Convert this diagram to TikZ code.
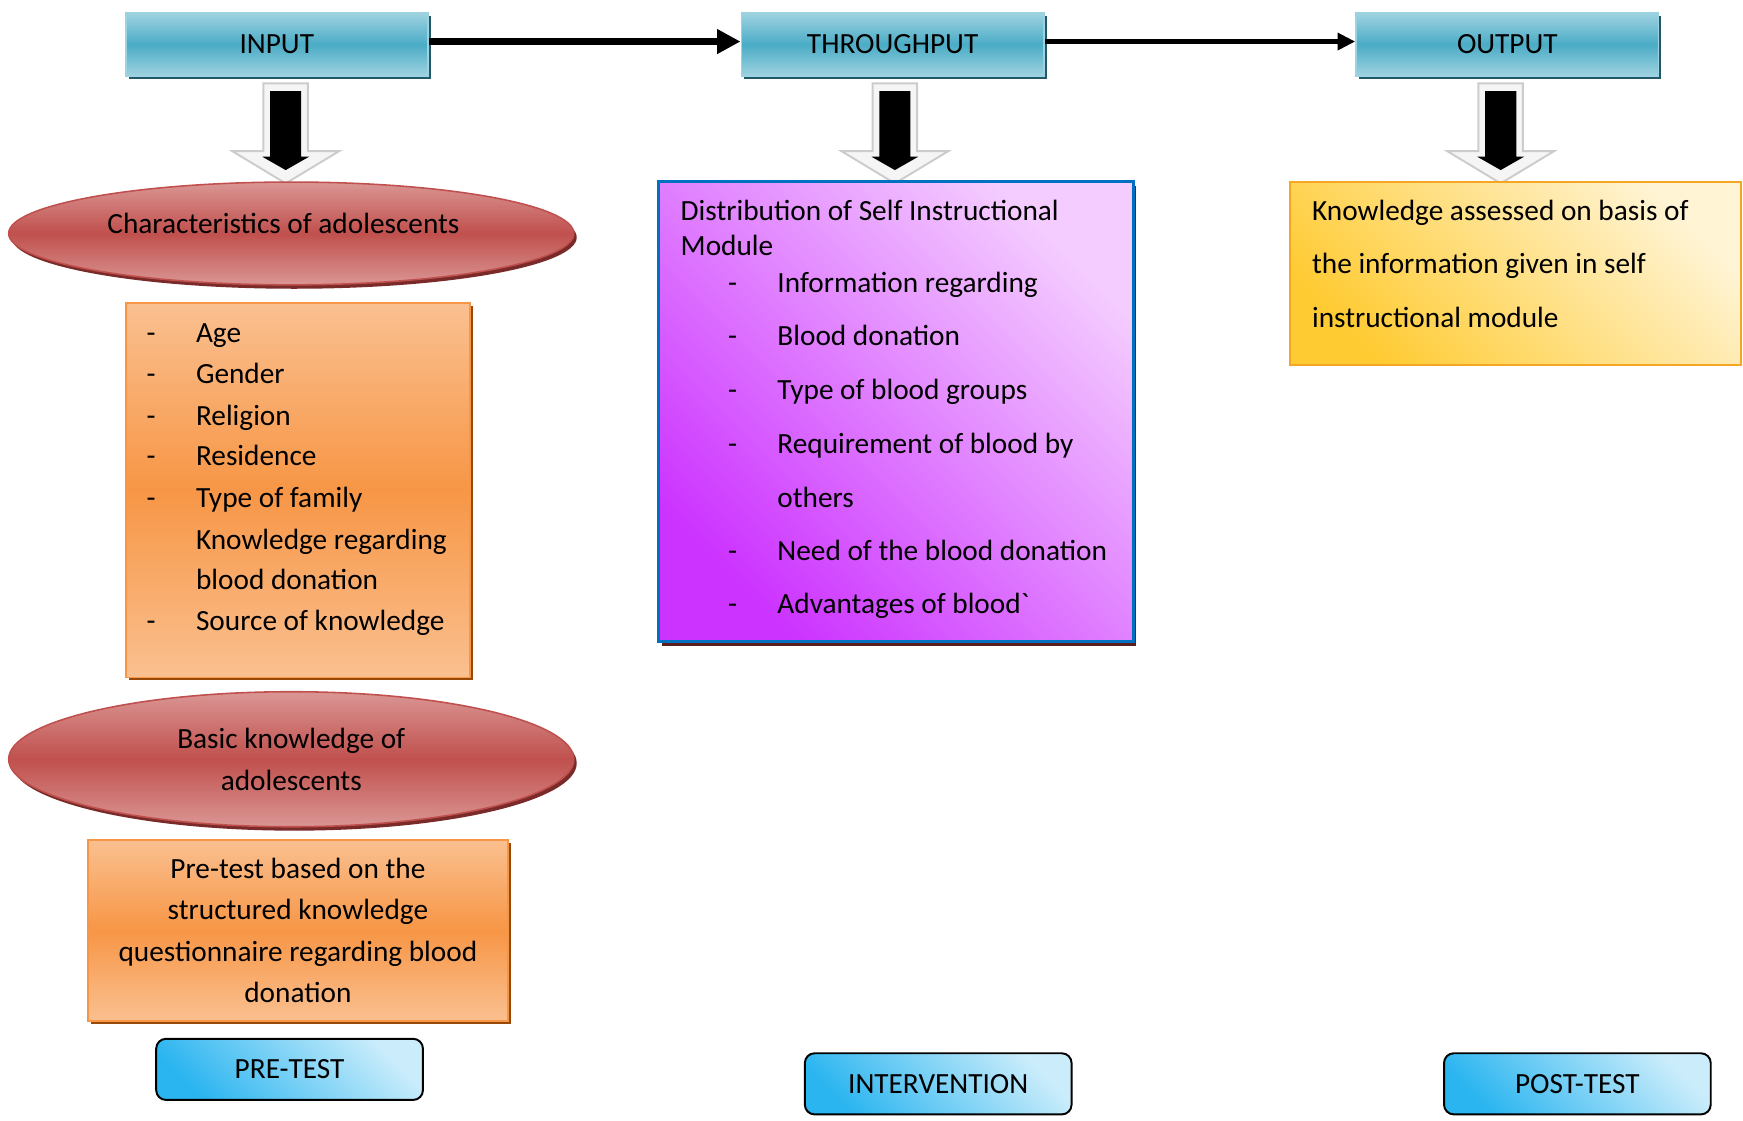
\documentclass[tikz,border=0pt]{standalone}
\usepackage{fontspec}
\setmainfont{Carlito}
\usetikzlibrary{arrows.meta,shapes.geometric,shadows}

\definecolor{tealmid}{HTML}{4BACC6}
\definecolor{teallight}{HTML}{9DD2E0}
\definecolor{tealdark}{HTML}{215968}
\definecolor{redmid}{HTML}{C0504D}
\definecolor{redlight}{HTML}{DA9694}
\definecolor{reddark}{HTML}{7A2B29}
\definecolor{orgmid}{HTML}{F79646}
\definecolor{orglight}{HTML}{FAC090}
\definecolor{orgdark}{HTML}{984807}
\definecolor{purpdark}{HTML}{CC33FF}
\definecolor{purplight}{HTML}{F4CCFF}
\definecolor{modblue}{HTML}{0070C0}
\definecolor{moddark}{HTML}{5C1F1F}
\definecolor{golddark}{HTML}{FFCB33}
\definecolor{goldlight}{HTML}{FFF4D4}
\definecolor{goldedge}{HTML}{F5A623}
\definecolor{skydark}{HTML}{2BB5F0}
\definecolor{skylight}{HTML}{CBEDFB}

\tikzset{
  blockarrow/.pic={
    \draw[fill=gray!8,draw=gray!40,line width=1pt] (-20,0) -- (20,0) -- (20,61) -- (48,61) -- (0,90) -- (-48,61) -- (-20,61) -- cycle;
    \fill[black] (-14,7) -- (14,7) -- (14,66) -- (21,66) -- (0,78) -- (-21,66) -- (-14,66) -- cycle;
  },
  itemtxt/.style={anchor=west,inner sep=0pt,text height=2.2ex,text depth=.25ex},
  dashtxt/.style={inner sep=0pt,text height=2.2ex,text depth=.25ex}
}

\begin{document}
\begin{tikzpicture}[x=0.02cm,y=-0.02cm,font=\fontsize{15}{21.3}\selectfont]
    \useasboundingbox (0,0) rectangle (1568,1008);
    % stages
    \begin{scope}[every node/.style={rectangle,draw=teallight,line width=1pt,top color=teallight,bottom color=teallight,middle color=tealmid,drop shadow={shadow xshift=1.5pt,shadow yshift=-1.5pt,fill=tealdark,opacity=1},minimum width=5.44cm,minimum height=1.12cm,inner sep=0pt}]
      \node (input) at (249,40) {INPUT};
      \node (through) at (803,40) {THROUGHPUT};
      \node (output) at (1356,40) {OUTPUT};
    \end{scope}
    \begin{scope}[>={Triangle[length=12pt,width=12pt]},every edge/.style={draw=black,line width=4pt}]
      \path[->] ([yshift=1.5pt]input.east) edge ([yshift=1.5pt]through.west);
      \path ([yshift=1.5pt]through.east) edge[line width=3pt,-{Triangle[length=9pt,width=8.5pt]}] ([yshift=1.5pt]output.west);
    \end{scope}
    \pic at (257,75) {blockarrow};
    \pic at (805,75) {blockarrow};
    \pic at (1350,75) {blockarrow};
    % input column
    \begin{scope}[every node/.style={ellipse,draw=redmid,line width=.8pt,top color=redlight,bottom color=redlight,middle color=redmid,drop shadow={shadow xshift=1.5pt,shadow yshift=-2pt,fill=reddark,opacity=1},minimum width=10.17cm,inner sep=0pt,align=center}]
      \node[minimum height=1.85cm] (charac) at (262,210) {};
      \node[minimum height=2.43cm] (basic) at (262,683) {Basic knowledge of\\adolescents};
    \end{scope}
    \node (charactxt) at (255,201) {Characteristics of adolescents};
    \begin{scope}[every node/.style={rectangle,draw=orgmid,line width=1pt,top color=orglight,bottom color=orglight,middle color=orgmid,drop shadow={shadow xshift=1.5pt,shadow yshift=-1.5pt,fill=orgdark,opacity=1},inner sep=0pt,align=center}]
      \node[minimum width=6.19cm,minimum height=6.74cm] (traits) at (268,441) {};
      \node[minimum width=7.56cm,minimum height=3.25cm] (pretest) at (268,837) {Pre-test based on the\\structured knowledge\\questionnaire regarding blood\\donation};
    \end{scope}
    \foreach \y/\t [count=\i] in {300/Age,337/Gender,375/Religion,411/Residence,448/Type of family,559/Source of knowledge} {
      \node[dashtxt] (tdash\i) at (136,\y) {-};
      \node[itemtxt] (titem\i) at (176,\y) {\t};
    }
    \node[itemtxt] (tknow) at (176,486) {Knowledge regarding};
    \node[itemtxt] (tblood) at (176,522) {blood donation};
    % throughput column
    \node[rectangle,draw=modblue,line width=1.3pt,top color=purpdark,bottom color=purplight,shading angle=135,drop shadow={shadow xshift=1.5pt,shadow yshift=-2.5pt,fill=moddark,opacity=1},minimum width=8.54cm,minimum height=8.28cm,inner sep=0pt] (module) at (806,370) {};
    \node[itemtxt] (mtitle) at (612,190) {Distribution of Self Instructional};
    \node[itemtxt] (mtitle2) at (612,222) {Module};
    \foreach \y/\t [count=\i] in {255/Information regarding,303/Blood donation,351/Type of blood groups,400/Requirement of blood by,496/Need of the blood donation,544/Advantages of blood\textasciigrave} {
      \node[dashtxt] (mdash\i) at (659,\y) {-};
      \node[itemtxt] (mitem\i) at (699,\y) {\t};
    }
    \node[itemtxt] (mothers) at (699,448) {others};
    % output column
    \node[rectangle,draw=goldedge,line width=1pt,top color=golddark,bottom color=goldlight,shading angle=135,minimum width=8.12cm,minimum height=3.3cm,inner sep=0pt] (assess) at (1363,246) {};
    \node[itemtxt] (assess1) at (1180,190) {Knowledge assessed on basis of};
    \node[itemtxt] (assess2) at (1180,238) {the information given in self};
    \node[itemtxt] (assess3) at (1180,286) {instructional module};
    % phases
    \begin{scope}[every node/.style={rectangle,rounded corners=5pt,draw=black,line width=1pt,top color=skydark,bottom color=skylight,shading angle=135,minimum width=4.8cm,minimum height=1.1cm,inner sep=0pt}]
      \node (pre) at (260.5,962) {PRE-TEST};
      \node (interv) at (844,975) {INTERVENTION};
      \node (post) at (1419,975) {POST-TEST};
    \end{scope}
\end{tikzpicture}
\end{document}
